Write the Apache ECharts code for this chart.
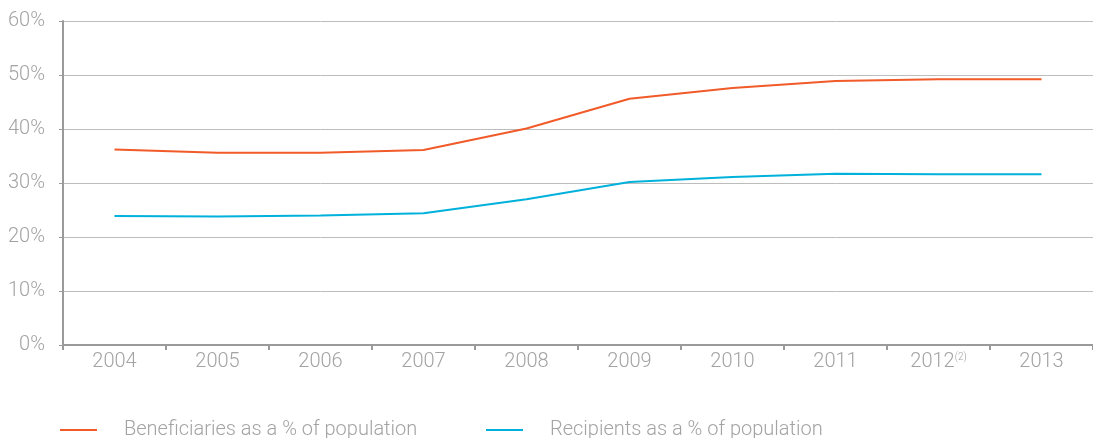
<!DOCTYPE html>
<html><head><meta charset="utf-8">
<script src="https://cdn.jsdelivr.net/npm/echarts@6/dist/echarts.min.js"></script>
<style>html,body{margin:0;padding:0;background:#fff}#c{width:1093px;height:438px}</style>
</head><body><div id="c"></div>
<script>
const categories = ['2004','2005','2006','2007','2008','2009','2010','2011','2012','2013'];
const categoryNotes = {'2012':'(2)'};
const beneficiaries = [36.2, 35.6, 35.6, 36.1, 40.1, 45.6, 47.6, 48.9, 49.2, 49.2];
const recipients = [23.9, 23.8, 24.0, 24.4, 27.0, 30.2, 31.1, 31.7, 31.6, 31.6];
const yTicks = [0, 10, 20, 30, 40, 50, 60];
const seriesNames = ['Beneficiaries as a % of population', 'Recipients as a % of population'];

const FONT = 'Roboto';
const GREY = '#a3a3a3';
const chart = echarts.init(document.getElementById('c'));
const legendText = {color: GREY, fontSize: 20, fontFamily: FONT, fontWeight: 300, padding: [0,0,0,22]};
chart.setOption({
  animation: false,
  textStyle: {fontFamily: FONT, fontWeight: 300},
  grid: {left: 63, top: 21, width: 1034, height: 324, containLabel: false},
  legend: [
    {data: [seriesNames[0]], left: 60, top: 420, padding: 0, icon: 'rect', itemWidth: 37, itemHeight: 2, textStyle: legendText},
    {data: [seriesNames[1]], left: 486, top: 420, padding: 0, icon: 'rect', itemWidth: 37, itemHeight: 2, textStyle: legendText}
  ],
  xAxis: {
    type: 'category', data: categories, boundaryGap: true,
    axisLine: {lineStyle: {color: '#9a9a9a', width: 2}},
    axisTick: {show: true, length: 5, interval: 0, lineStyle: {color: '#9a9a9a', width: 2}},
    axisLabel: {
      interval: 0, color: GREY, fontSize: 20, fontFamily: FONT, fontWeight: 300, margin: 7,
      formatter: v => categoryNotes[v] ? v + '{sup|' + categoryNotes[v] + '}' : v,
      rich: {sup: {fontSize: 10, color: GREY, fontFamily: FONT, fontWeight: 300, padding: [0,0,9,0]}}
    }
  },
  yAxis: {
    type: 'value', min: yTicks[0], max: yTicks[yTicks.length-1], interval: 10,
    axisLine: {show: true, lineStyle: {color: '#9a9a9a', width: 2}},
    axisTick: {show: true, length: 4, lineStyle: {color: '#9a9a9a', width: 1}},
    axisLabel: {color: GREY, fontSize: 20, fontFamily: FONT, fontWeight: 300, margin: 18, formatter: '{value}%'},
    splitLine: {lineStyle: {color: '#bdbdbd', width: 1}}
  },
  series: [
    {name: seriesNames[0], type: 'line', data: beneficiaries, symbol: 'none', lineStyle: {color: '#F15A29', width: 2}, itemStyle: {color: '#F15A29'}},
    {name: seriesNames[1], type: 'line', data: recipients, symbol: 'none', lineStyle: {color: '#00B1DB', width: 2}, itemStyle: {color: '#00B1DB'}}
  ]
});
</script></body></html>
